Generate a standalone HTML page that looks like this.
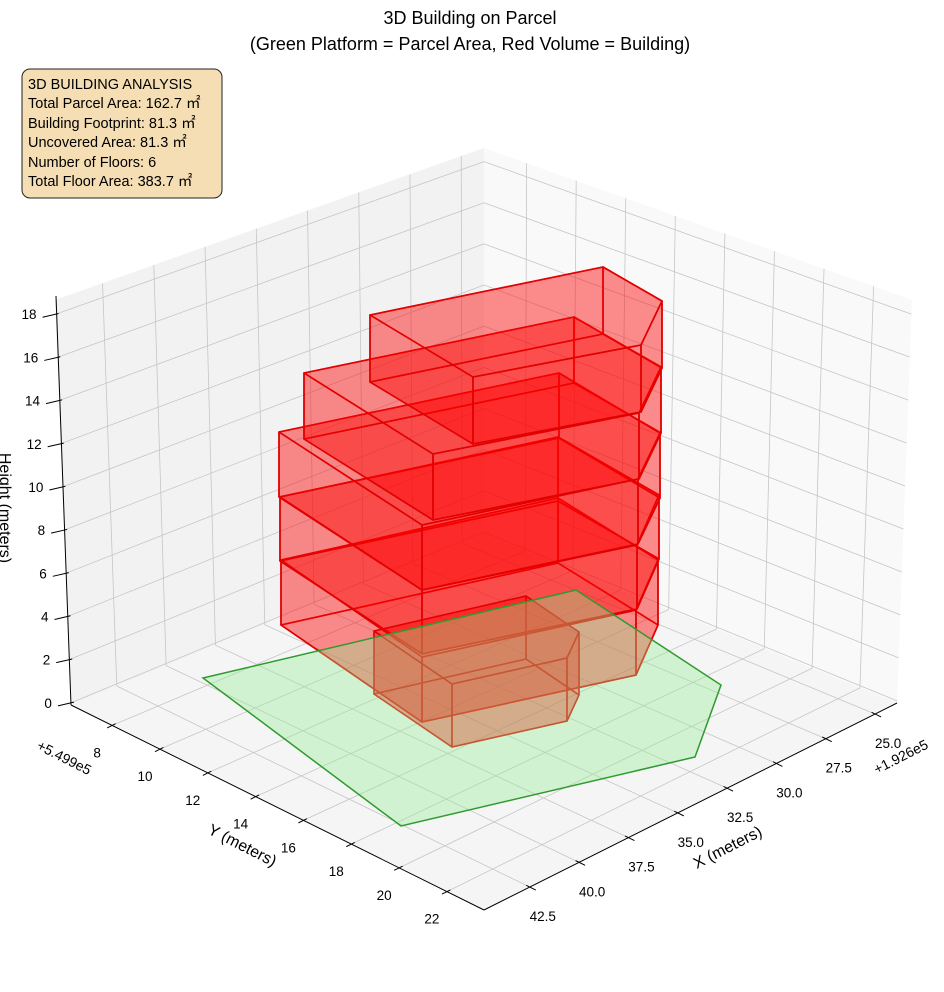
<!DOCTYPE html>
<html><head><meta charset="utf-8"><style>
html,body{margin:0;padding:0;background:#fff;}
svg{display:block;font-family:"Liberation Sans",sans-serif;}
</style></head><body>
<svg id="s" width="944" height="992" viewBox="0 0 944 992" xmlns="http://www.w3.org/2000/svg">
<text x="470" y="24" font-size="18" text-anchor="middle">3D Building on Parcel</text>
<text x="470" y="50" font-size="18" text-anchor="middle">(Green Platform = Parcel Area, Red Volume = Building)</text>
<g id="g"></g>
<rect x="22" y="69" width="200" height="129" rx="8" fill="#f5deb3" stroke="#222" stroke-width="1"/>
<g font-size="14.5" fill="#000">
<text x="28" y="89">3D BUILDING ANALYSIS</text>
<text x="28" y="108">Total Parcel Area: 162.7 ㎡</text>
<text x="28" y="128">Building Footprint: 81.3 ㎡</text>
<text x="28" y="147">Uncovered Area: 81.3 ㎡</text>
<text x="28" y="167">Number of Floors: 6</text>
<text x="28" y="186">Total Floor Area: 383.7 ㎡</text>
</g>
<text font-size="14" transform="translate(62,762) rotate(27)" text-anchor="middle">+5.499e5</text>
<text font-size="14" transform="translate(903,761) rotate(-27)" text-anchor="middle">+1.926e5</text>
<text font-size="16" transform="translate(240,850) rotate(27)" text-anchor="middle">Y (meters)</text>
<text font-size="16" transform="translate(730,852) rotate(-27)" text-anchor="middle">X (meters)</text>
<text font-size="16" transform="translate(0,508) rotate(90)" text-anchor="middle">Height (meters)</text>
</svg>
<script>
(function(){
var NS="http://www.w3.org/2000/svg";var g=document.getElementById('g');
function el(t,a,txt){var e=document.createElementNS(NS,t);for(var k in a)e.setAttribute(k,a[k]);if(txt!==undefined)e.textContent=txt;g.appendChild(e);return e;}
function L(a,b,t){return [a[0]+(b[0]-a[0])*t,a[1]+(b[1]-a[1])*t];}
function pts(a){return a.map(function(p){return p[0].toFixed(1)+','+p[1].toFixed(1);}).join(' ');}
function line(a,b,c,w){el('line',{x1:a[0],y1:a[1],x2:b[0],y2:b[1],stroke:c,'stroke-width':w});}
var back=[484,534],left=[71,705],right=[897,703],front=[484,910],bT=[484,148],lT=[55,300],rT=[912,300];
el('polygon',{points:pts([back,left,lT,bT]),fill:'#f2f2f2'});
el('polygon',{points:pts([back,right,rT,bT]),fill:'#f9f9f9'});
el('polygon',{points:pts([back,left,front,right]),fill:'#f5f5f5'});
var gc='#c6c6c6',gw=0.8;
var xt=[25,27.5,30,32.5,35,37.5,40,42.5],yt=[8,10,12,14,16,18,20,22],zt=[0,2,4,6,8,10,12,14,16,18];
function tx(x){return (x-23.89)/20.93;}function ty(y){return (y-6.28)/17.27;}function tz(z){return (z+0.1)/18.76;}
xt.forEach(function(x){var t=tx(x);line(L(back,left,t),L(bT,lT,t),gc,gw);line(L(back,left,t),L(right,front,t),gc,gw);});
yt.forEach(function(y){var t=ty(y);line(L(back,right,t),L(bT,rT,t),gc,gw);line(L(back,right,t),L(left,front,t),gc,gw);});
zt.forEach(function(z){var t=tz(z);line(L(left,lT,t),L(back,bT,t),gc,gw);line(L(back,bT,t),L(right,rT,t),gc,gw);});
line(left,[56,296],'#000',1);line(left,front,'#000',1);line(front,right,'#000',1);
zt.forEach(function(z){var p=L(left,lT,tz(z));line([p[0]-13,p[1]+3],[p[0]+3,p[1]-0.7],'#000',1);
 el('text',{x:p[0]-19,y:p[1]+5,'font-size':13.5,'text-anchor':'end'},String(z));});
yt.forEach(function(y){var p=L(left,front,ty(y));line([p[0]-5,p[1]+2.5],[p[0]+3.5,p[1]-1.7],'#000',1);
 el('text',{x:p[0]-15,y:p[1]+32,'font-size':13.5,'text-anchor':'middle'},String(y));});
xt.forEach(function(x){var p=L(right,front,tx(x));line([p[0]-3.5,p[1]-1.7],[p[0]+6,p[1]+3],'#000',1);
 el('text',{x:p[0]+13,y:p[1]+34,'font-size':13.5,'text-anchor':'middle'},x.toFixed(1));});
function prism(top,h,fill,stroke,sw){
 var bot=top.map(function(p){return [p[0],p[1]+h];});
 var tp=top.map(function(p){return [p[0],p[1]];});
 var faces=[bot];
 for(var i=0;i<5;i++){var j=(i+1)%5;faces.push([tp[i],tp[j],bot[j],bot[i]]);}
 faces.push(tp);
 faces.forEach(function(f){el('polygon',{points:pts(f),fill:fill,stroke:stroke,'stroke-width':sw,'stroke-linejoin':'round'});});
}
var RF='rgba(255,0,0,0.25)',RS='rgba(225,0,0,0.95)';
prism([[281,560],[558,498],[658,560],[636,610],[422,657]],65,RF,RS,1.6);
prism([[280,497],[558,437],[659,495],[637,545],[422,590]],64,RF,RS,1.6);
prism([[279,432],[559,373],[660,433],[638,479],[422,525]],65,RF,RS,1.6);
prism([[304,373],[574,317],[661,367],[639,413],[433,454]],66,RF,RS,1.6);
prism([[370,315],[603,267],[662,301],[641,345],[473,377]],67,RF,RS,1.6);
prism([[374,631],[526,596],[579,632],[567,658],[452,684]],63,'rgba(255,0,0,0.25)','rgba(225,0,0,0.9)',1.5);
el('polygon',{points:pts([[203,678],[576,590],[721,685],[695,757],[401,826]]),fill:'rgba(144,238,144,0.36)',stroke:'#2f9a2f','stroke-width':1.5});
})();
</script>
</body></html>
